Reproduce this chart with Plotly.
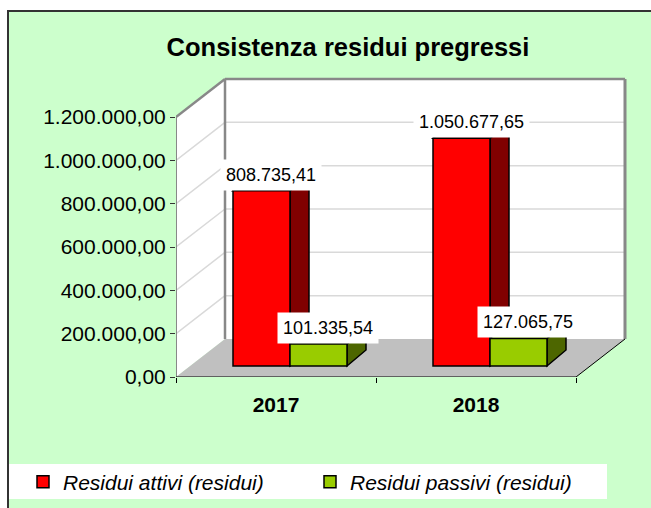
import plotly.graph_objects as go

# ---------------- data ----------------
categories = ["2017", "2018"]
residui_attivi = [808735.41, 1050677.65]
residui_passivi = [101335.54, 127065.75]
series_names = ["Residui attivi (residui)", "Residui passivi (residui)"]
y_ticks = [0, 200000, 400000, 600000, 800000, 1000000, 1200000]
title_text = "Consistenza residui pregressi"

# ---------------- geometry (pixels) ----------------
W, H = 651, 508
PLOT_L, PLOT_R = 176, 630
PLOT_T, PLOT_B = 74, 377
CAT_PX = 200.0
VAL_MAX = y_ticks[-1]
VAL_PX = 260.0 / VAL_MAX


def dx(px):
    return px / CAT_PX


def dy(px):
    return px / VAL_PX


def pxx(p):  # pixel -> paper x
    return (p - PLOT_L) / (PLOT_R - PLOT_L)


def pxy(p):  # pixel -> paper y
    return (PLOT_B - p) / (PLOT_B - PLOT_T)


X0 = -0.5
X1 = X0 + len(categories)
x_range = [X0, X0 + dx(PLOT_R - PLOT_L)]
y_range = [0, dy(PLOT_B - PLOT_T)]

WDX, WDY = dx(49), dy(38)        # wall depth
BZX, BZY = dx(14), dy(11)        # bar front position in depth
SDX, SDY = dx(19), dy(16)        # bar depth
BAR_W = dx(57)

RED, RED_SIDE = "#FF0000", "#800000"
GRN, GRN_SIDE = "#99CC00", "#4D6600"
offsets = [-BAR_W + BZX, BZX]
series = [residui_attivi, residui_passivi]
fronts = [RED, GRN]
sides = [RED_SIDE, GRN_SIDE]
FONT = "Liberation Sans, Arial, sans-serif"

fig = go.Figure()
for k in range(2):
    fig.add_trace(go.Bar(
        x=list(range(len(categories))), y=series[k], base=BZY,
        width=BAR_W, offset=offsets[k], name=series_names[k],
        marker=dict(color=fronts[k], line=dict(color="black", width=1.5)),
        legend="legend" if k == 0 else "legend2", showlegend=True,
    ))


def P(pts):
    return "M " + " L ".join(f"{a:.6f},{b:.3f}" for a, b in pts) + " Z"


shapes = []
# background panel + legend strip
shapes.append(dict(type="rect", xref="paper", yref="paper", layer="below",
                   x0=pxx(8), x1=pxx(W + 20), y0=pxy(11), y1=pxy(H + 20),
                   fillcolor="#CCFFCC", line=dict(color="#333333", width=2)))
shapes.append(dict(type="rect", xref="paper", yref="paper", layer="below",
                   x0=pxx(9), x1=pxx(607), y0=pxy(464), y1=pxy(499),
                   fillcolor="white", line=dict(width=0)))
D = dict(xref="x", yref="y", layer="below")
# walls and floor
shapes.append(dict(type="path", path=P([(X0, 0), (X0, VAL_MAX), (X0 + WDX, VAL_MAX + WDY), (X0 + WDX, WDY)]),
                   fillcolor="white", line=dict(width=0), **D))
shapes.append(dict(type="rect", x0=X0 + WDX, x1=X1 + WDX, y0=WDY, y1=VAL_MAX + WDY,
                   fillcolor="white", line=dict(width=0), **D))
shapes.append(dict(type="path", path=P([(X0, 0), (X1, 0), (X1 + WDX, WDY), (X0 + WDX, WDY)]),
                   fillcolor="#C0C0C0", line=dict(width=0), **D))
# gridlines
for v in y_ticks[1:-1]:
    shapes.append(dict(type="line", x0=X0 + WDX, x1=X1 + WDX, y0=v + WDY, y1=v + WDY,
                       line=dict(color="#D9D9D9", width=1.5), **D))
    shapes.append(dict(type="line", x0=X0, x1=X0 + WDX, y0=v, y1=v + WDY,
                       line=dict(color="#D9D9D9", width=1.5), **D))
# edges
G = dict(color="#888888", width=2.5)
shapes.append(dict(type="line", x0=X0, x1=X0 + WDX, y0=VAL_MAX, y1=VAL_MAX + WDY, line=G, **D))
shapes.append(dict(type="line", x0=X0 + WDX, x1=X1 + WDX, y0=VAL_MAX + WDY, y1=VAL_MAX + WDY, line=G, **D))
shapes.append(dict(type="line", x0=X0 + WDX, x1=X0 + WDX, y0=WDY, y1=VAL_MAX + WDY, line=G, **D))
shapes.append(dict(type="line", x0=X1 + WDX, x1=X1 + WDX, y0=WDY, y1=VAL_MAX + WDY,
                   line=dict(color="#888888", width=3), **D))
shapes.append(dict(type="line", x0=X0, x1=X0, y0=0, y1=VAL_MAX, line=dict(color="#888888", width=2), **D))
shapes.append(dict(type="line", x0=X0, x1=X1, y0=0, y1=0, line=dict(color="black", width=1), **D))
shapes.append(dict(type="line", x0=X1, x1=X1 + WDX, y0=0, y1=WDY, line=dict(color="black", width=1), **D))
# 3D sides and tops of bars
for k in range(2):
    for i, v in enumerate(series[k]):
        xl = i + offsets[k]
        xr = xl + BAR_W
        b, t = BZY, BZY + v
        shapes.append(dict(type="path", path=P([(xr, b), (xr, t), (xr + SDX, t + SDY), (xr + SDX, b + SDY)]),
                           fillcolor=sides[k], line=dict(color="black", width=1.5), **D))
        shapes.append(dict(type="path", path=P([(xl, t), (xr, t), (xr + SDX, t + SDY), (xl + SDX, t + SDY)]),
                           fillcolor=fronts[k], line=dict(color="black", width=1.5), **D))

annotations = []
for k in range(2):
    for i, v in enumerate(series[k]):
        txt = f"{v:,.2f}".replace(",", "X").replace(".", ",").replace("X", ".")
        annotations.append(dict(
            x=i + offsets[k] + (BAR_W + SDX) / 2, y=BZY + v, xref="x", yref="y",
            text=txt, showarrow=False, xanchor="center", yanchor="bottom",
            bgcolor="white", borderpad=5,
            font=dict(family=FONT, size=18, color="black")))

LEG_FONT = dict(family=FONT, size=21, style="italic", color="black")
fig.update_layout(
    width=W, height=H,
    margin=dict(l=PLOT_L, r=W - PLOT_R, t=PLOT_T, b=H - PLOT_B, pad=0),
    paper_bgcolor="white", plot_bgcolor="rgba(0,0,0,0)",
    separators=",.",
    barmode="overlay",
    showlegend=True,
    font=dict(family=FONT, color="black"),
    title=dict(text=title_text, x=348 / W, xanchor="center", y=1 - 47 / H, yanchor="middle",
               xref="container", yref="container",
               font=dict(family=FONT, size=25.5, weight="bold", color="black")),
    xaxis=dict(range=x_range, tickmode="array", tickvals=list(range(len(categories))),
               ticktext=categories, ticks="", showgrid=False, zeroline=False, showline=False,
               tickfont=dict(family=FONT, size=21, weight="bold", color="black"),
               ticklabelstandoff=13,
               minor=dict(tickmode="array", tickvals=[X0 + j for j in range(len(categories) + 1)],
                          ticks="outside", ticklen=5, tickcolor="black", tickwidth=1, showgrid=False),
               fixedrange=True),
    yaxis=dict(range=y_range, tickmode="array", tickvals=y_ticks, tickformat=",.2f",
               ticks="outside", ticklen=5, tickcolor="#333333", tickwidth=1,
               showgrid=False, zeroline=False, showline=False,
               tickfont=dict(family=FONT, size=21, color="black"), fixedrange=True),
    shapes=shapes,
    annotations=annotations,
    legend=dict(x=23 / W, y=1 - 482 / H, xref="container", yref="container",
                xanchor="left", yanchor="middle", orientation="h",
                bgcolor="rgba(0,0,0,0)", font=LEG_FONT),
    legend2=dict(x=310 / W, y=1 - 482 / H, xref="container", yref="container",
                 xanchor="left", yanchor="middle", orientation="h",
                 bgcolor="rgba(0,0,0,0)", font=LEG_FONT),
)

fig.write_html("out.html", config={"displayModeBar": False},
               post_script="document.body.style.margin='0px';document.body.style.overflow='hidden';")
